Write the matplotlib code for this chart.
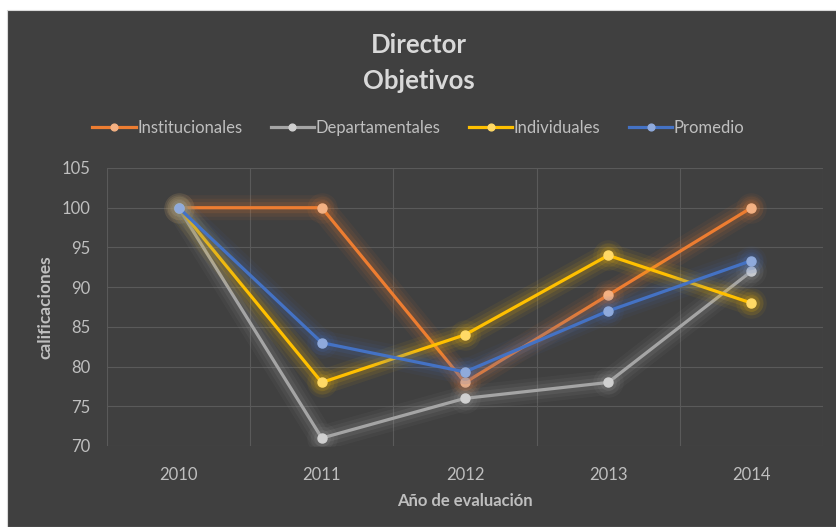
import matplotlib.pyplot as plt
from matplotlib.patches import Rectangle

# datos
years = ["2010", "2011", "2012", "2013", "2014"]
institucionales = [100, 100, 78, 89, 100]
departamentales = [100, 71, 76, 78, 92]
individuales = [100, 78, 84, 94, 88]
promedio = [100, 83, 79.33, 87, 93.33]

names = ["Institucionales", "Departamentales", "Individuales", "Promedio"]
series = [institucionales, departamentales, individuales, promedio]
colors = ["#ED7D31", "#A5A5A5", "#FFC000", "#4472C4"]
marker_colors = ["#F4B183", "#D0D0D0", "#FFD966", "#8FAADC"]

plt.rcParams["font.family"] = ["Lato", "DejaVu Sans"]
txt = "#BFBFBF"

fig = plt.figure(figsize=(8.37, 5.27), dpi=100, facecolor="white")
bg = Rectangle((7 / 837, 0), 1, 1 - 10 / 527, transform=fig.transFigure,
               facecolor="#404040", edgecolor="#D9D9D9", lw=0.8, zorder=-5)
fig.add_artist(bg)

ax = fig.add_axes([107 / 837, 1 - 446 / 527, (823 - 107) / 837, (446 - 168) / 527])
ax.patch.set_alpha(0)

x = list(range(len(years)))
for i, (name, vals, c, mc) in enumerate(zip(names, series, colors, marker_colors)):
    # brillo alrededor de la linea
    for w, a in [(18, 0.06), (13, 0.08), (8, 0.12)]:
        ax.plot(x, vals, color=c, lw=w, alpha=a, solid_capstyle="round",
                solid_joinstyle="round", zorder=2 + i)
        ax.plot(x, vals, ls="none", marker="o", ms=w + 4, color=c, alpha=a,
                markeredgewidth=0, zorder=2 + i)
    ax.plot(x, vals, color=c, lw=2.3, marker="o", ms=6.5, markerfacecolor=mc,
            markeredgecolor=mc, zorder=3 + i, label=name)

ax.set_xlim(-0.5, 4.5)
ax.set_ylim(70, 105)
ax.set_yticks(range(70, 106, 5))
ax.set_xticks(x)
ax.set_xticklabels(years)
ax.set_xticks([i - 0.5 for i in range(6)], minor=True)
ax.grid(True, which="major", axis="y", color="#5A5A5A", lw=0.8)
ax.grid(True, which="minor", axis="x", color="#5A5A5A", lw=0.8)
ax.tick_params(which="both", length=0, colors=txt, labelsize=12)
ax.tick_params(axis="x", pad=15)
ax.tick_params(axis="y", pad=12)
for s in ax.spines.values():
    s.set_visible(False)

ax.set_xlabel("Año de evaluación", color=txt, fontsize=12, fontweight="bold", labelpad=7)
ax.set_ylabel("calificaciones", color=txt, fontsize=12.5, fontweight="bold", labelpad=6)

fig.text(0.5, 1 - 45 / 527, "Director", ha="center", va="center", color="#D9D9D9",
         fontsize=18.5, fontweight="bold")
fig.text(0.5, 1 - 81 / 527, "Objetivos", ha="center", va="center", color="#D9D9D9",
         fontsize=18.5, fontweight="bold")

leg = fig.legend(loc="center", bbox_to_anchor=(0.5, 1 - 128 / 527), ncol=4, frameon=False,
                 fontsize=12, handlelength=2.6, columnspacing=1.7, handletextpad=0.1,
                 markerscale=0.75)
for t in leg.get_texts():
    t.set_color(txt)

fig.savefig("out.png", dpi=100, facecolor=fig.get_facecolor())
